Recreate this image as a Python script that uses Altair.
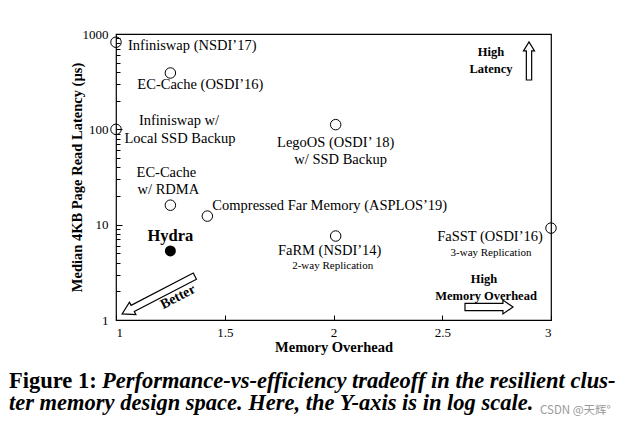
import altair as alt
import pandas as pd

# ---- data ----
names = ["Infiniswap", "EC-Cache", "Infiniswap SSD", "LegoOS", "EC-Cache RDMA",
         "Compressed Far Memory", "Hydra", "FaRM", "FaSST"]
overhead = [1.0, 1.25, 1.0, 2.01, 1.25, 1.42, 1.25, 2.01, 3.0]
latency = [820, 390, 100, 112, 16, 12.3, 5.3, 7.6, 9.2]
is_ours = [False, False, False, False, False, False, True, False, False]

x_ticks = [1, 1.5, 2, 2.5, 3]
y_major = [1, 10, 100, 1000]
y_minor = [2, 3, 4, 5, 6, 7, 8, 9, 20, 30, 40, 50, 60, 70, 80, 90,
           200, 300, 400, 500, 600, 700, 800, 900]

SERIF = "Liberation Serif"
W, H = 435, 286
FS = 14.5

df = pd.DataFrame({"name": names, "overhead": overhead,
                   "latency": latency, "ours": is_ours})
one = pd.DataFrame({"k": [0]})

xs = alt.Scale(domain=[1, 3], nice=False, zero=False)
ys = alt.Scale(type="log", domain=[1, 1000], nice=False)
xe = alt.X("overhead:Q", scale=xs, axis=None)
ye = alt.Y("latency:Q", scale=ys, axis=None)

base = alt.Chart(df)

# main axes (labels + titles)
main_x = alt.X("overhead:Q", scale=xs, axis=alt.Axis(
    values=x_ticks, format="~g", tickSize=0, labelPadding=6, domain=False,
    grid=False, title="Memory Overhead", titleFont=SERIF, titleFontSize=14.5,
    titleFontWeight="bold", titleColor="black", titlePadding=1,
    labelFont=SERIF, labelFontSize=13, labelColor="black"))
main_y = alt.Y("latency:Q", scale=ys, axis=alt.Axis(
    values=y_major, format="~g", tickSize=0, labelPadding=8, domain=False,
    grid=False, title="Median 4KB Page Read Latency (µs)", titleFont=SERIF,
    titleFontSize=14.5, titleFontWeight="bold", titleColor="black",
    titlePadding=-2, labelFont=SERIF, labelFontSize=13, labelColor="black"))

open_pts = base.transform_filter(alt.datum.ours == False).mark_point(
    shape="circle", filled=False, size=110, stroke="black", strokeWidth=1,
    opacity=1).encode(x=main_x, y=main_y)
ours_pts = base.transform_filter(alt.datum.ours == True).mark_point(
    shape="circle", filled=True, size=120, color="black", opacity=1
).encode(x=xe, y=ye)

# inward ticks: axes placed on the opposite side with negative offset
ytick_major = base.mark_point(opacity=0).encode(
    x=xe,
    y=alt.Y("latency:Q", scale=ys, axis=alt.Axis(
        orient="right", offset=-W, values=y_major, labels=False, domain=False,
        grid=False, title=None, tickSize=6, tickColor="black", tickWidth=1)))
ytick_minor = base.mark_point(opacity=0).encode(
    x=xe,
    y=alt.Y("latency:Q", scale=ys, axis=alt.Axis(
        orient="right", offset=-W, values=y_minor, labels=False, domain=False,
        grid=False, title=None, tickSize=4, tickColor="black", tickWidth=1)))
xtick = base.mark_point(opacity=0).encode(
    x=alt.X("overhead:Q", scale=xs, axis=alt.Axis(
        orient="top", offset=-H, values=x_ticks, labels=False, domain=False,
        grid=False, title=None, tickSize=5, tickColor="black", tickWidth=1)),
    y=ye)


def lbl(name, text, dx, dy, align="center", size=FS, weight="normal"):
    return base.transform_filter(alt.datum.name == name).mark_text(
        align=align, baseline="middle", dx=dx, dy=dy, font=SERIF,
        fontSize=size, fontWeight=weight, color="black"
    ).encode(x=xe, y=ye, text=alt.value(text))


labels = [
    lbl("Infiniswap", "Infiniswap (NSDI’17)", 12, 4, align="left"),
    lbl("EC-Cache", "EC-Cache (OSDI’16)", 30, 12),
    lbl("Infiniswap SSD", "Infiniswap w/", 63, -8),
    lbl("Infiniswap SSD", "Local SSD Backup", 64, 10),
    lbl("LegoOS", "LegoOS (OSDI’ 18)", 0, 18),
    lbl("LegoOS", "w/ SSD Backup", 5, 35),
    lbl("EC-Cache RDMA", "EC-Cache", -4, -32),
    lbl("EC-Cache RDMA", "w/ RDMA", -2, -15),
    lbl("Compressed Far Memory", "Compressed Far Memory (ASPLOS’19)", 5, -10,
        align="left"),
    lbl("Hydra", "Hydra", 0, -15, size=16.5, weight="bold"),
    lbl("FaRM", "FaRM (NSDI’14)", -6, 15),
    lbl("FaRM", "2-way Replication", -3, 30, size=11),
    lbl("FaSST", "FaSST (OSDI’16)", -61, 9),
    lbl("FaSST", "3-way Replication", -60, 25, size=11),
]


def note(text, x, y, size=12.5, weight="bold", style="normal", align="center",
         angle=0, color="black", font=SERIF, baseline="middle"):
    return alt.Chart(one).mark_text(
        align=align, baseline=baseline, font=font, fontSize=size,
        fontWeight=weight, fontStyle=style, angle=angle, color=color
    ).encode(x=alt.value(x), y=alt.value(y), text=alt.value(text))


UP = "M -0.14 1 L -0.14 -0.53 L -0.29 -0.53 L 0 -1 L 0.29 -0.53 L 0.14 -0.53 L 0.14 1 Z"
RIGHT = "M -1 -0.15 L 0.58 -0.15 L 0.58 -0.29 L 1 0 L 0.58 0.29 L 0.58 0.15 L -1 0.15 Z"
BETTER = "M -1 -0.085 L 0.71 -0.085 L 0.71 -0.17 L 1 0 L 0.71 0.17 L 0.71 0.085 L -1 0.085 Z"


def arrow(path, x, y, size, angle=0):
    return alt.Chart(one).mark_point(
        shape=path, filled=False, stroke="black", strokeWidth=1.2,
        size=size, angle=angle, opacity=1
    ).encode(x=alt.value(x), y=alt.value(y))


notes = [
    note("High", 375, 18),
    note("Latency", 375, 35),
    note("High", 368, 245, size=12.5),
    note("Memory Overhead", 370, 262, size=12.5),
    note("Better", 62, 263, size=14, angle=332.5),
    arrow(UP, 413, 27, 1444),
    arrow(RIGHT, 373, 273, 2304),
    arrow(BETTER, 42.5, 261, 6724, angle=152.5),
    note("Figure 1:", -107, 354, size=22.5, align="left", baseline="alphabetic"),
    note("Performance-vs-efficiency tradeoff in the resilient clus-", -14, 354,
         size=22.5, style="italic", align="left", baseline="alphabetic"),
    note("ter memory design space. Here, the Y-axis is in log scale.", -107, 376,
         size=22.5, style="italic", align="left", baseline="alphabetic"),
    note("CSDN @天辉°", 424, 377, size=11.5, weight="normal", align="left",
         color="#9a9a9a", font="Noto Sans CJK SC"),
]

chart = alt.layer(
    open_pts, ours_pts, ytick_major, ytick_minor, xtick, *labels, *notes
).resolve_axis(x="independent", y="independent").properties(
    width=W, height=H,
    autosize=alt.AutoSizeParams(type="none"),
    padding={"left": 108, "top": 26, "right": 76, "bottom": 100},
    background="white",
).configure_view(stroke="black", strokeWidth=1.2)

chart.save("out.html", embed_options={"renderer": "svg", "actions": False})
